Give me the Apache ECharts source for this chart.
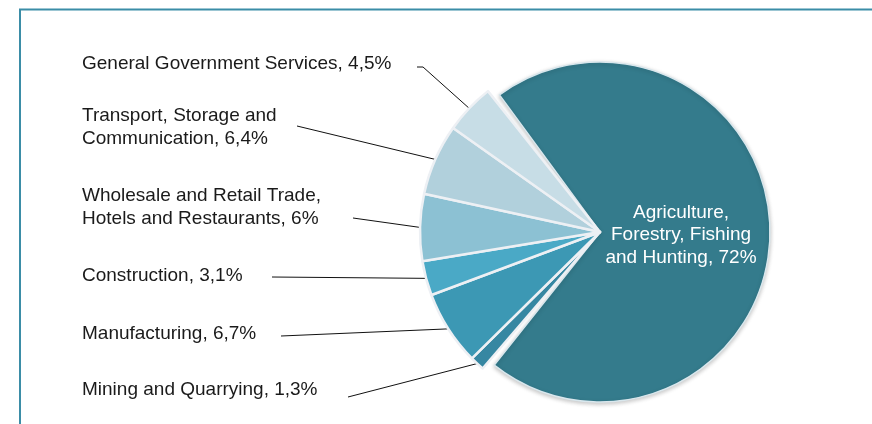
<!DOCTYPE html>
<html>
<head>
<meta charset="utf-8">
<title>GDP by economic activity</title>
<script src="https://cdn.jsdelivr.net/npm/echarts@6/dist/echarts.min.js"></script>
<style>
  html, body { margin: 0; padding: 0; background: #ffffff; }
  #chart { width: 872px; height: 424px; }
</style>
</head>
<body>
<div id="chart"></div>
<script>
// Sectors in clockwise drawing order, starting with the large slice
const categories = [
  'Agriculture,\nForestry, Fishing\nand Hunting',
  'Mining and Quarrying',
  'Manufacturing',
  'Construction',
  'Wholesale and Retail Trade,\nHotels and Restaurants',
  'Transport, Storage and\nCommunication',
  'General Government Services'
];
// Share of GDP, percent
const shares = [72, 1.3, 6.7, 3.1, 6, 6.4, 4.5];
const sliceColors = ['#347b8c', '#3687a2', '#3c98b4', '#4aa9c6', '#8cc1d3', '#b1d0dc', '#c7dde6'];

// Label placement for the outside labels: text block centre (y) and the text-side end of the leader line
const textLeft = 82;
const labelSpots = [
  null,
  { y: 390, a: [348, 397] },
  { y: 334, a: [281, 336] },
  { y: 276, a: [272, 277] },
  { y: 207, a: [353, 218] },
  { y: 127, a: [297, 126] },
  { y: 63.5, a: [417, 67], b: [423, 67] }
];

const FONT = '"Liberation Sans", Arial, Helvetica, sans-serif';
const center = [600, 232];
const startAngle = 128.5;

function pct(v) {
  return String(v).replace('.', ',') + '%';
}

const chart = echarts.init(document.getElementById('chart'), null, { renderer: 'canvas' });

// Large slice: drawn alone, slightly smaller and padded away from its neighbours
const bigData = categories.map(function (name, i) {
  const item = { name: name, value: shares[i] };
  if (i === 0) {
    item.itemStyle = { color: sliceColors[0] };
  } else {
    item.itemStyle = { color: 'transparent', borderWidth: 0, shadowBlur: 0 };
    item.label = { show: false };
    item.labelLine = { show: false };
  }
  return item;
});

// Small slices: drawn with the large one left empty
const smallData = categories.map(function (name, i) {
  const item = { name: name, value: shares[i] };
  if (i === 0) {
    item.itemStyle = { color: 'transparent', borderWidth: 0, shadowBlur: 0 };
    item.label = { show: false };
    item.labelLine = { show: false };
  } else {
    item.itemStyle = { color: sliceColors[i] };
  }
  return item;
});

chart.setOption({
  animation: false,
  backgroundColor: '#ffffff',
  graphic: [
    {
      type: 'polyline',
      silent: true,
      shape: { points: [[20, 424], [20, 9.5], [872, 9.5]] },
      style: { stroke: '#3b8da7', lineWidth: 2, fill: null }
    }
  ],
  series: [
    {
      type: 'pie',
      center: center,
      radius: [0, 170],
      startAngle: startAngle,
      clockwise: true,
      padAngle: 4.5,
      silent: true,
      avoidLabelOverlap: false,
      itemStyle: {
        borderColor: '#d9e7ed',
        borderWidth: 1.5,
        shadowBlur: 4,
        shadowOffsetY: 1.5,
        shadowColor: 'rgba(0,0,0,0.22)'
      },
      label: {
        show: true,
        position: 'inside',
        color: '#ffffff',
        fontFamily: FONT,
        fontSize: 19,
        lineHeight: 22.5,
        align: 'center',
        formatter: function (p) { return p.name + ', ' + pct(p.value); }
      },
      labelLayout: function (p) {
        if (p.dataIndex !== 0) return {};
        return { x: 681, y: 235, align: 'center', verticalAlign: 'middle' };
      },
      labelLine: { show: false },
      emphasis: { disabled: true },
      data: bigData
    },
    {
      type: 'pie',
      center: center,
      radius: [0, 180],
      startAngle: startAngle,
      clockwise: true,
      silent: true,
      avoidLabelOverlap: false,
      itemStyle: {
        borderColor: '#edf0f4',
        borderWidth: 2.5
      },
      label: {
        show: true,
        position: 'outside',
        color: '#1a1a1a',
        fontFamily: FONT,
        fontSize: 19,
        lineHeight: 23,
        formatter: function (p) { return p.name + ', ' + pct(p.value); }
      },
      labelLine: {
        show: true,
        length: 10,
        length2: 10,
        lineStyle: { color: '#111111', width: 1 }
      },
      labelLayout: function (p) {
        const spot = labelSpots[p.dataIndex];
        if (!spot) return {};
        const pts = [spot.a];
        if (spot.b) pts.push(spot.b);
        pts.push(p.labelLinePoints ? p.labelLinePoints[0] : spot.a);
        return {
          x: textLeft,
          y: spot.y,
          align: 'left',
          verticalAlign: 'middle',
          labelLinePoints: pts
        };
      },
      emphasis: { disabled: true },
      data: smallData
    }
  ]
});
</script>
</body>
</html>
